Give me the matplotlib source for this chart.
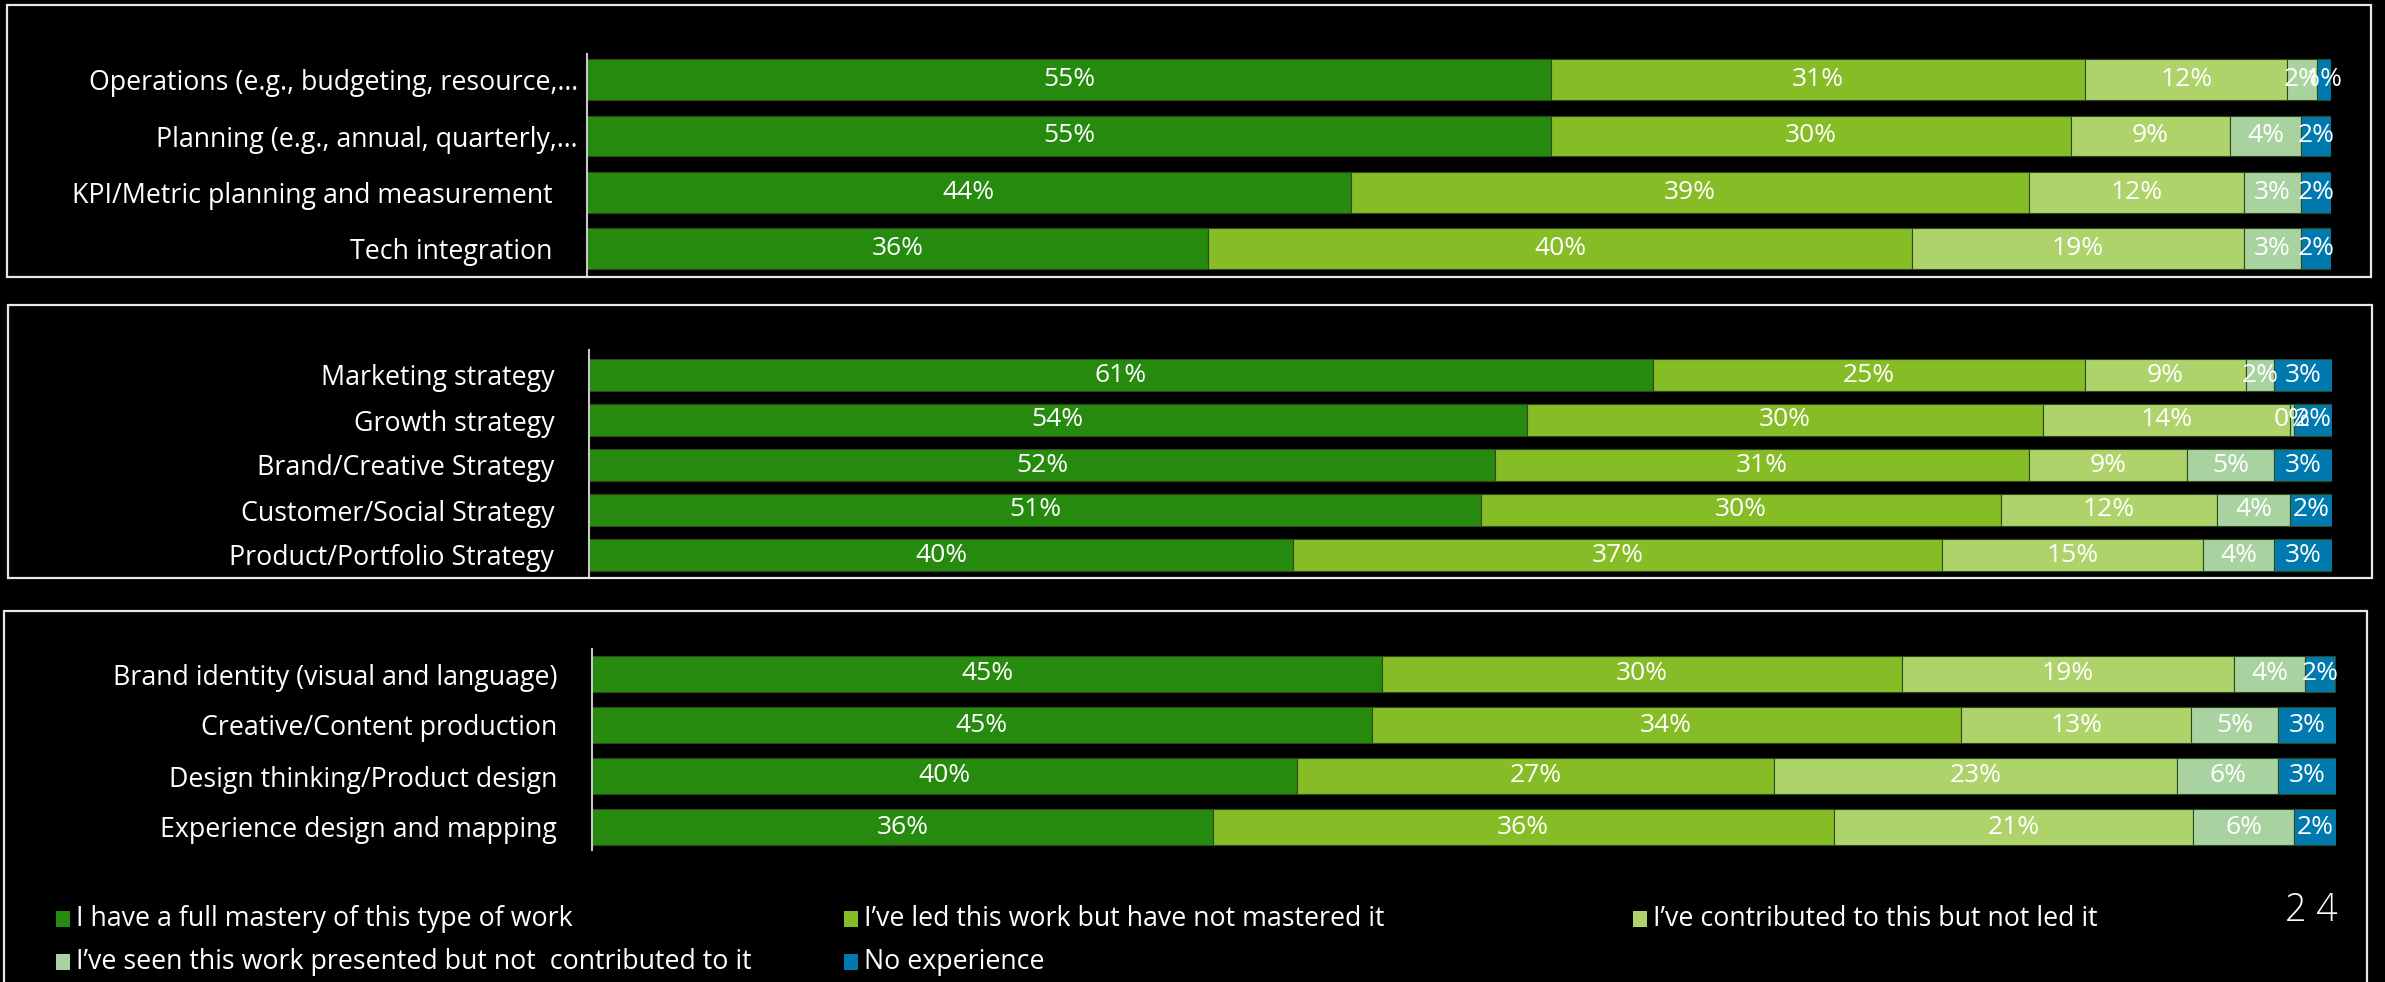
import matplotlib.pyplot as plt
from matplotlib.patches import Rectangle

plt.rcParams["font.family"] = ["Open Sans", "DejaVu Sans"]

W, H = 2385, 982

# response categories (legend order) and their colours
categories = [
    "I have a full mastery of this type of work",
    "I’ve led this work but have not mastered it",
    "I’ve contributed to this but not led it",
    "I’ve seen this work presented but not  contributed to it",
    "No experience",
]
colors = ["#268a0f", "#86bc25", "#afd36b", "#a8d3a0", "#0079ae"]

# panel 1: operations / planning
ops_labels = [
    "Operations (e.g., budgeting, resource,…",
    "Planning (e.g., annual, quarterly,…",
    "KPI/Metric planning and measurement ",
    "Tech integration ",
]
ops_values = [
    [55.3, 30.6, 11.6, 1.7, 0.8],
    [55.3, 29.8, 9.1, 4.1, 1.7],
    [43.8, 38.9, 12.3, 3.3, 1.7],
    [35.6, 40.4, 19.0, 3.3, 1.7],
]

# panel 2: strategy
strat_labels = [
    "Marketing strategy ",
    "Growth strategy ",
    "Brand/Creative Strategy ",
    "Customer/Social Strategy ",
    "Product/Portfolio Strategy ",
]
strat_values = [
    [61.05, 24.8, 9.2, 1.65, 3.3],
    [53.8, 29.6, 14.2, 0.2, 2.2],
    [52.0, 30.6, 9.1, 5.0, 3.3],
    [51.2, 29.8, 12.4, 4.2, 2.4],
    [40.4, 37.2, 15.0, 4.1, 3.3],
]

# panel 3: creative / design
design_labels = [
    "Brand identity (visual and language) ",
    "Creative/Content production ",
    "Design thinking/Product design ",
    "Experience design and mapping ",
]
design_values = [
    [45.3, 29.8, 19.05, 4.1, 1.7],
    [44.7, 33.8, 13.2, 5.0, 3.3],
    [40.4, 27.4, 23.1, 5.8, 3.3],
    [35.6, 35.6, 20.6, 5.8, 2.4],
]

fig = plt.figure(figsize=(W / 100, H / 100), dpi=100, facecolor="black")


def px_axes(left, right, top, bottom):
    return fig.add_axes([left / W, 1 - bottom / H, (right - left) / W, (bottom - top) / H])


def draw_panel(labels, values, left, right, top, bottom, first_c, pitch, bar_h, pads):
    ax = px_axes(left, right, top, bottom)
    ax.set_facecolor("black")
    n = len(labels)
    for i, row in enumerate(values):
        start = 0
        for v, c in zip(row, colors):
            ax.barh(i, v, left=start, height=bar_h, color=c,
                    edgecolor="#2f4a1a", linewidth=0.8)
            ax.text(start + v / 2, i, f"{v:.0f}%", ha="center", va="center",
                    color="white", fontsize=19)
            start += v
    ax.set_xlim(0, 100)
    ax.set_ylim((bottom - first_c) / pitch, (top - first_c) / pitch)
    ax.set_xticks([])
    ax.set_yticks(range(n))
    ax.set_yticklabels(labels, color="white", fontsize=19.3)
    ax.tick_params(axis="y", length=0)
    for t, p in zip(ax.yaxis.get_major_ticks(), pads):
        t.set_pad(p)
    for s in ["top", "right", "bottom"]:
        ax.spines[s].set_visible(False)
    ax.spines["left"].set_color("#c8c8c8")
    ax.spines["left"].set_linewidth(1.5)
    return ax


draw_panel(ops_labels, ops_values, 587, 2331, 54, 277, 79.6, 56.4, 0.72,
           [6.5, 6.5, 20, 20])
draw_panel(strat_labels, strat_values, 589, 2332, 350, 577, 375, 45, 0.71,
           [20] * 5)
draw_panel(design_labels, design_values, 592, 2336, 649, 850, 674, 51, 0.71,
           [20] * 4)

# panel frames
for x0, x1, y0, y1 in [(7, 2371, 5, 277), (8, 2372, 305, 578), (4, 2367, 611, 995)]:
    fig.add_artist(Rectangle((x0 / W, 1 - y1 / H), (x1 - x0) / W, (y1 - y0) / H,
                             transform=fig.transFigure, fill=False,
                             edgecolor="#e8e8e8", linewidth=1.6))

# legend, laid out row by row
leg_x = [56, 844, 1633]
leg_y = [919, 962]
for k, (lab, c) in enumerate(zip(categories, colors)):
    x = leg_x[k % 3]
    y = leg_y[k // 3]
    fig.add_artist(Rectangle((x / W, 1 - (y + 8) / H), 14 / W, 16 / H,
                             transform=fig.transFigure, facecolor=c, edgecolor="none"))
    fig.text((x + 20) / W, 1 - y / H, lab, color="white", fontsize=19.3,
             ha="left", va="center")

# page number
fig.text(2285 / W, 1 - 911 / H, "2 4", color="white", fontsize=27,
         fontweight="light", ha="left", va="center")

fig.savefig("out.png", dpi=100, facecolor="black")
